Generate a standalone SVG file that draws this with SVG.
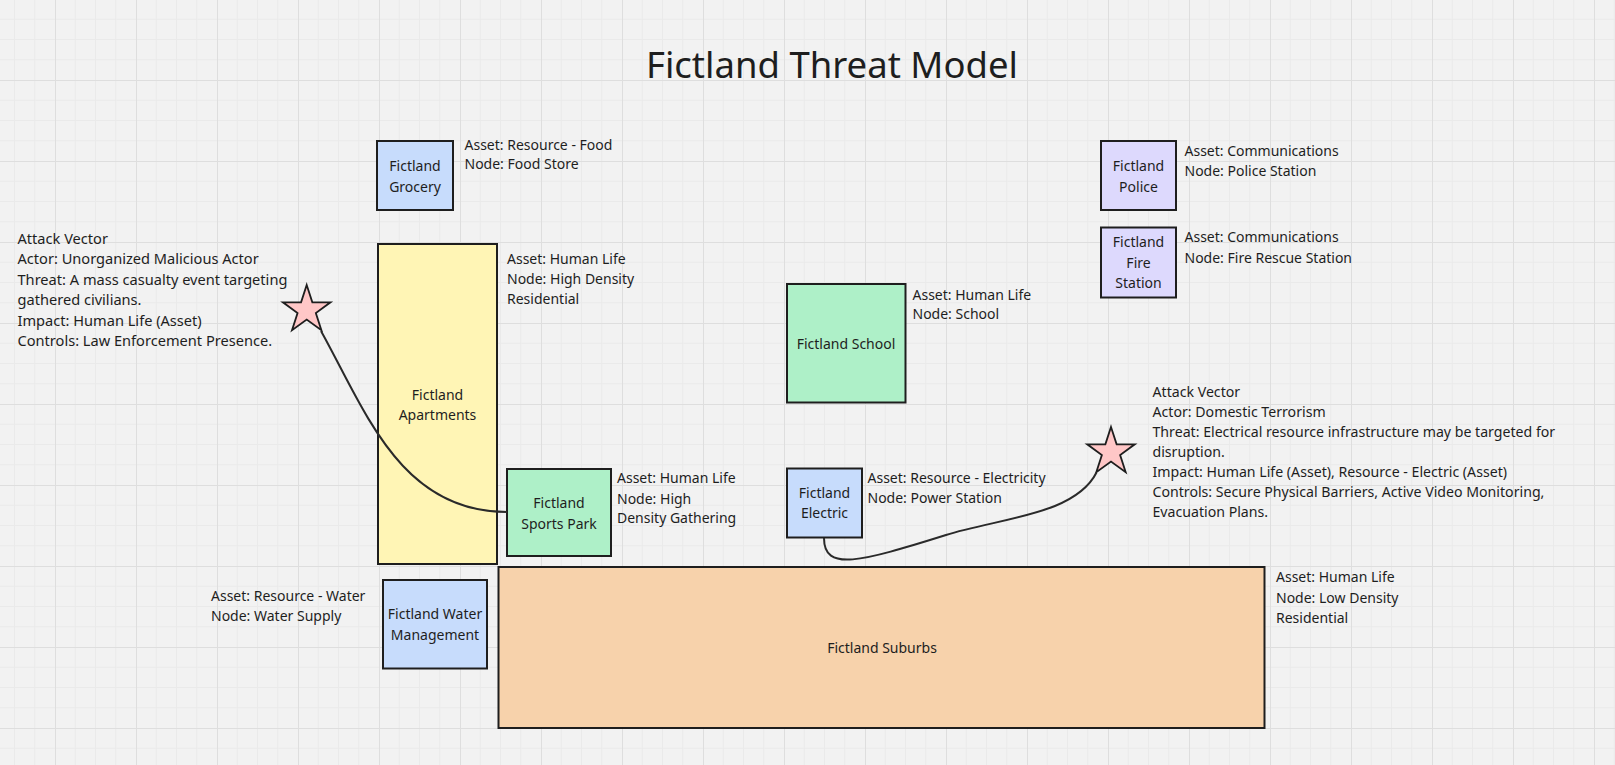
<svg xmlns="http://www.w3.org/2000/svg" xmlns:xlink="http://www.w3.org/1999/xlink" width="1615" height="765" viewBox="0 0 1615 765">
<defs>
<pattern id="grid" patternUnits="userSpaceOnUse" x="55" y="80" width="81" height="81">
<path d="M20.25 0V81M40.5 0V81M60.75 0V81M0 20.25H81M0 40.5H81M0 60.75H81" stroke="#eaeaea" stroke-width="1" fill="none"/>
<path d="M0.5 0V81M0 0.5H81" stroke="#dedede" stroke-width="1" fill="none"/>
</pattern>
<path id="star" d="M0 -25 L5.64 -7.77 L23.78 -7.73 L9.13 2.97 L14.69 20.23 L0 9.6 L-14.69 20.23 L-9.13 2.97 L-23.78 -7.73 L-5.64 -7.77 Z"/>
<style>
text{font-family:"Noto Sans","Open Sans","Liberation Sans",sans-serif;fill:#1e1e1e;font-size:14px}
.title{font-size:36.5px}
.c{text-anchor:middle}
.av1 text{font-size:14.6px}
.av2 text{font-size:14.15px}
.box{stroke:#1e1e1e;stroke-width:2}
.blue{fill:#c7dcfc}
.yellow{fill:#fff5b5}
.green{fill:#aef0c8}
.peach{fill:#f7d2ab}
.lav{fill:#ddd9fd}
.star{fill:#ffc7c7;stroke:#1e1e1e;stroke-width:1.8;stroke-linejoin:miter}
.conn{fill:none;stroke:#2a2a2a;stroke-width:2}
</style>
</defs>
<rect width="1615" height="765" fill="#f2f2f2"/>
<rect width="1615" height="765" fill="url(#grid)"/>
<text class="title c" x="832" y="78">Fictland Threat Model</text>

<g id="grocery">
<rect class="box blue" x="377" y="141" width="76" height="69"/>
<text class="c" x="415" y="171">Fictland</text>
<text class="c" x="415" y="191.5">Grocery</text>
<text x="464.5" y="149.5">Asset: Resource - Food</text>
<text x="464.5" y="169">Node: Food Store</text>
</g>

<g id="apartments">
<rect class="box yellow" x="378" y="244" width="119" height="320"/>
<text class="c" x="437.5" y="400">Fictland</text>
<text class="c" x="437.5" y="420">Apartments</text>
<text x="507" y="263.5">Asset: Human Life</text>
<text x="507" y="284">Node: High Density</text>
<text x="507" y="304">Residential</text>
</g>

<g id="sportspark">
<rect class="box green" x="507" y="469" width="104" height="87"/>
<text class="c" x="559" y="508">Fictland</text>
<text class="c" x="559" y="528.5">Sports Park</text>
<text x="617" y="483">Asset: Human Life</text>
<text x="617" y="503.5">Node: High</text>
<text x="617" y="523">Density Gathering</text>
</g>

<g id="water">
<rect class="box blue" x="383" y="580" width="104" height="88.5"/>
<text class="c" x="435" y="619">Fictland Water</text>
<text class="c" x="435" y="639.5">Management</text>
<text x="211" y="600.5">Asset: Resource - Water</text>
<text x="211" y="621">Node: Water Supply</text>
</g>

<g id="suburbs">
<rect class="box peach" x="498.5" y="567" width="766" height="161"/>
<text class="c" x="882" y="653">Fictland Suburbs</text>
<text x="1276" y="582">Asset: Human Life</text>
<text x="1276" y="602.5">Node: Low Density</text>
<text x="1276" y="623">Residential</text>
</g>

<g id="school">
<rect class="box green" x="787" y="284" width="118.5" height="118.5"/>
<text class="c" x="846" y="349">Fictland School</text>
<text x="912.5" y="299.5">Asset: Human Life</text>
<text x="912.5" y="319">Node: School</text>
</g>

<g id="electric">
<rect class="box blue" x="787" y="468.5" width="75" height="69"/>
<text class="c" x="824.5" y="498">Fictland</text>
<text class="c" x="824.5" y="518">Electric</text>
<text x="867.5" y="483">Asset: Resource - Electricity</text>
<text x="867.5" y="503">Node: Power Station</text>
</g>

<g id="police">
<rect class="box lav" x="1101" y="141" width="75" height="69"/>
<text class="c" x="1138.5" y="171">Fictland</text>
<text class="c" x="1138.5" y="191.5">Police</text>
<text x="1184.5" y="155.5">Asset: Communications</text>
<text x="1184.5" y="176">Node: Police Station</text>
</g>

<g id="firestation">
<rect class="box lav" x="1101" y="227.5" width="75" height="70"/>
<text class="c" x="1138.5" y="247">Fictland</text>
<text class="c" x="1138.5" y="267.5">Fire</text>
<text class="c" x="1138.5" y="287.5">Station</text>
<text x="1184.5" y="242">Asset: Communications</text>
<text x="1184.5" y="262.5">Node: Fire Rescue Station</text>
</g>

<g id="attack1" class="av1">
<use xlink:href="#star" href="#star" class="star" transform="translate(306.7 310)"/>
<text x="17.5" y="243.5">Attack Vector</text>
<text x="17.5" y="264">Actor: Unorganized Malicious Actor</text>
<text x="17.5" y="284.5">Threat: A mass casualty event targeting</text>
<text x="17.5" y="305">gathered civilians.</text>
<text x="17.5" y="325.5">Impact: Human Life (Asset)</text>
<text x="17.5" y="346">Controls: Law Enforcement Presence.</text>
</g>

<g id="attack2" class="av2">
<use xlink:href="#star" href="#star" class="star" transform="translate(1111 452)"/>
<text x="1152.5" y="396.5">Attack Vector</text>
<text x="1152.5" y="416.5">Actor: Domestic Terrorism</text>
<text x="1152.5" y="436.6">Threat: Electrical resource infrastructure may be targeted for</text>
<text x="1152.5" y="456.7">disruption.</text>
<text x="1152.5" y="476.7">Impact: Human Life (Asset), Resource - Electric (Asset)</text>
<text x="1152.5" y="496.8">Controls: Secure Physical Barriers, Active Video Monitoring,</text>
<text x="1152.5" y="516.8">Evacuation Plans.</text>
</g>

<g id="connectors">
<path class="conn" d="M321 331 C365 410 400 512 507 512"/>
<path class="conn" d="M824 538 C824 572 860 562 946 535 C1000 518 1075 515 1096.5 472.5"/>
</g>
</svg>
